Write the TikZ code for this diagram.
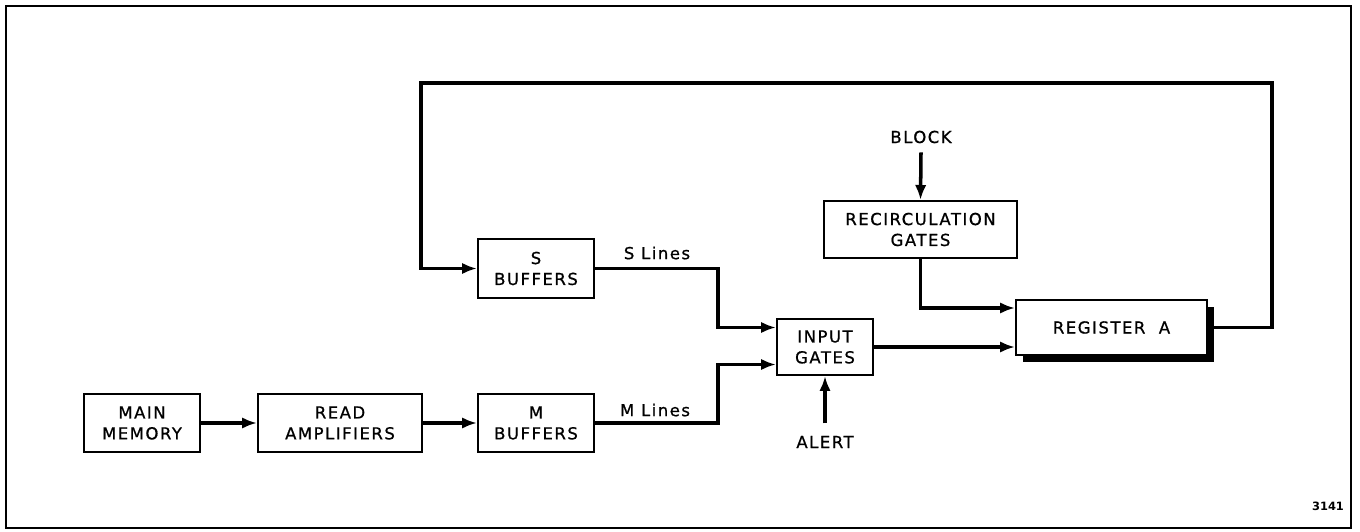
\documentclass[tikz,border=0pt]{standalone}
\usepackage{fontspec}
\setmainfont{DejaVu Sans}
\newfontfamily\lettering[LetterSpace=9, FakeBold=0.8]{DejaVu Sans}
\usepackage{tikz}
\usetikzlibrary{arrows.meta, shadows}

\begin{document}
\begin{tikzpicture}[
    unit/.style={rectangle, draw=black, fill=white, line width=1.2pt, align=center, inner sep=0pt, font=\lettering\fontsize{9.4}{11.9}\selectfont},
    register/.style={unit, drop shadow={shadow xshift=0.14cm, shadow yshift=-0.14cm, fill=black, opacity=1}},
    signal/.style={inner sep=5pt, font=\lettering\fontsize{9.4}{11.9}\selectfont},
    linelbl/.style={inner sep=0pt, font=\lettering\fontsize{9.4}{11.9}\selectfont},
    arrow/.style={-{Latex[length=8.5pt, width=6.5pt]}, line width=2pt},
]
\useasboundingbox (0,0) rectangle (27.2,10.62);
\draw[line width=1.2pt] (0.12,0.06) rectangle (27.02,10.5);

% read path
\node[unit, minimum width=2.32cm, minimum height=1.16cm] (mem) at (2.84, 2.16) {MAIN\\MEMORY};
\node[unit, minimum width=3.28cm, minimum height=1.16cm] (amp) at (6.80, 2.16) {READ\\AMPLIFIERS};
\node[unit, minimum width=2.32cm, minimum height=1.16cm] (mbuf) at (10.72, 2.16) {M\\BUFFERS};
\node[unit, minimum width=2.32cm, minimum height=1.18cm] (sbuf) at (10.72, 5.25) {S\\BUFFERS};
\node[unit, minimum width=1.92cm, minimum height=1.12cm] (ingate) at (16.50, 3.68) {INPUT\\GATES};
\node[unit, minimum width=3.86cm, minimum height=1.14cm] (recirc) at (18.41, 6.03) {RECIRCULATION\\GATES};
\node[register, minimum width=3.82cm, minimum height=1.10cm] (regA) at (22.23, 4.07) {REGISTER\ \ A};

\node[signal] (block) at (18.42, 7.88) {BLOCK};
\node[signal, inner sep=7pt] (alert) at (16.50, 1.78) {ALERT};
\node[linelbl] (slbl) at (13.14, 5.56) {S Lines};
\node[linelbl] (mlbl) at (13.10, 2.42) {M Lines};
\node[inner sep=0pt, font=\fontsize{6.5}{7}\selectfont\bfseries] (fig) at (26.56, 0.50) {3141};

\coordinate (join) at (14.36, 3.68);
\coordinate (sIn) at ([yshift=0.39cm]ingate.west);
\coordinate (mIn) at ([yshift=-0.35cm]ingate.west);
\coordinate (loopNE) at (25.44, 8.96);
\coordinate (loopNW) at (8.42, 8.96);

\draw[arrow] (mem.east) -- (amp.west);
\draw[arrow] (amp.east) -- (mbuf.west);
\draw[arrow] (mbuf.east) -| (join |- mIn) -- (mIn);
\draw[arrow] (sbuf.east) -| (join |- sIn) -- (sIn);
\draw[arrow] (ingate.east) -- (ingate.east -| regA.west);
\draw[arrow] (recirc.south) |- ([yshift=0.39cm]regA.west);
\draw[arrow] (block.south) -- (recirc.north);
\draw[arrow] (alert.north) -- (ingate.south);
\draw[arrow] (regA.east) -| (loopNE) -- (loopNW) |- (sbuf.west);

\end{tikzpicture}
\end{document}
